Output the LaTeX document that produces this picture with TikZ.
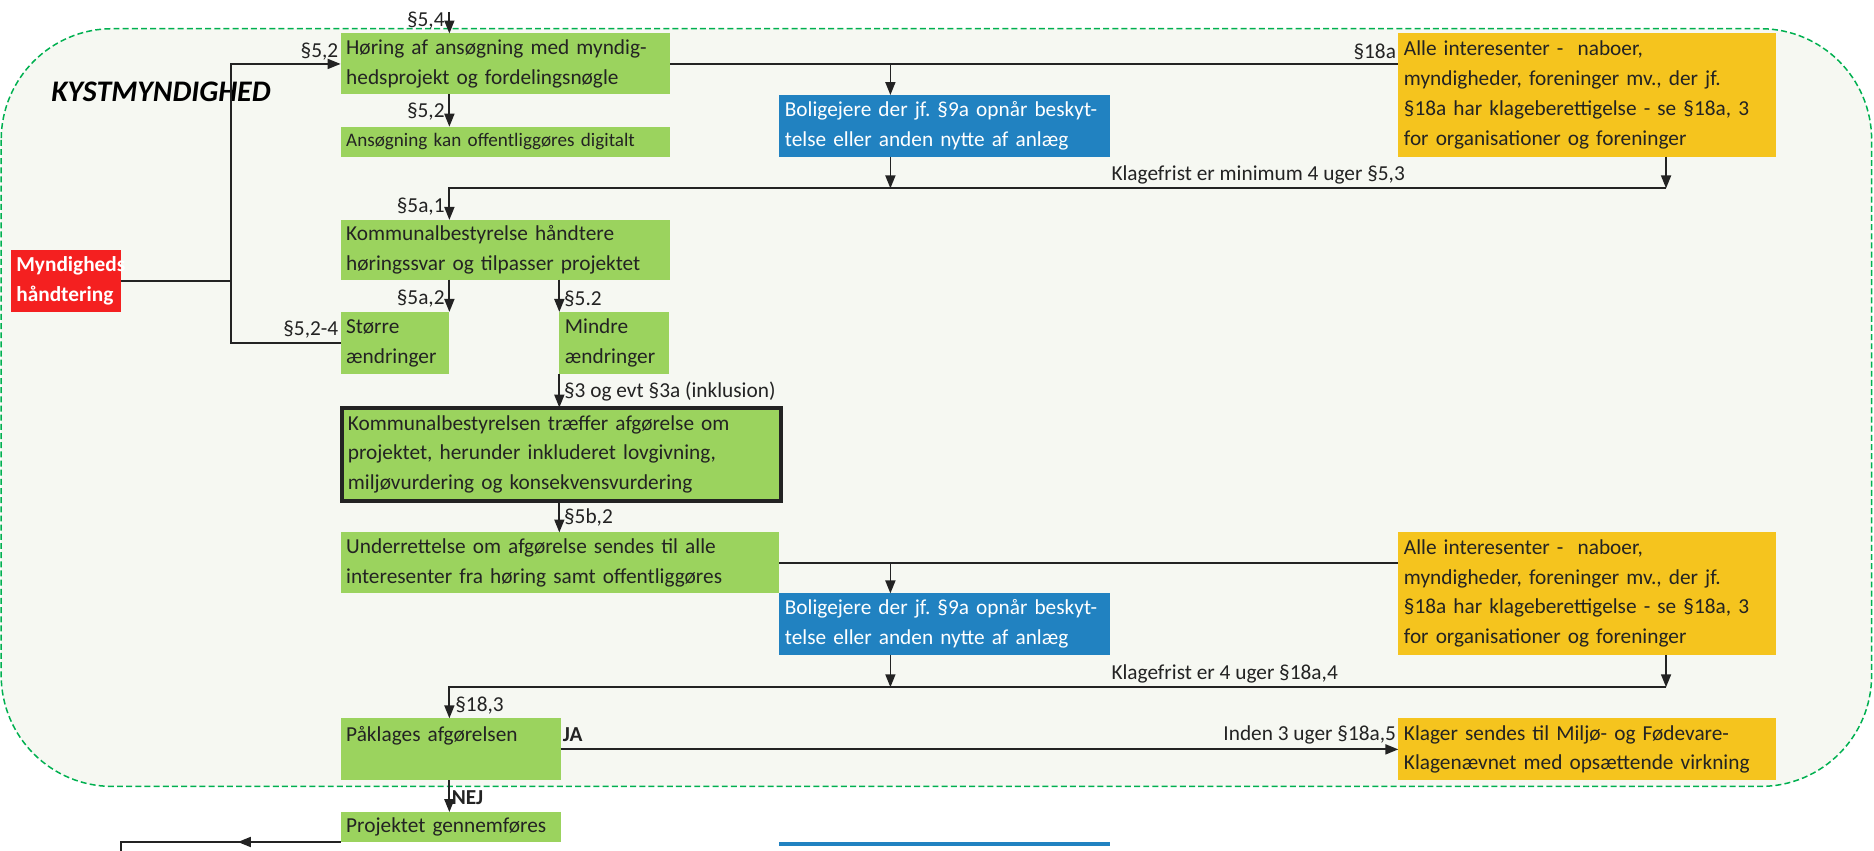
\documentclass[tikz,border=0pt]{standalone}
\usepackage{fontspec}
\setmainfont{Carlito}
\usetikzlibrary{arrows.meta}
\frenchspacing
\definecolor{kgreen}{RGB}{155,211,94}
\definecolor{kblue}{RGB}{33,130,193}
\definecolor{kyellow}{RGB}{245,196,30}
\definecolor{kred}{RGB}{244,32,32}
\definecolor{kdash}{RGB}{0,176,80}
\definecolor{kback}{RGB}{246,248,242}
\definecolor{ktext}{RGB}{35,35,35}

\begin{document}
\begin{tikzpicture}[x=0.6pt, y=-0.6pt,
  every node/.style={font=\fontsize{10.7}{15}\selectfont, text=ktext, inner sep=0pt, outer sep=0pt},
  box/.style={anchor=north west, inner xsep=2.8pt, align=left},
  gbox/.style={box, fill=kgreen},
  bbox/.style={box, fill=kblue, text=white},
  ybox/.style={box, fill=kyellow},
  lbl/.style={anchor=east},
  rlbl/.style={anchor=west},
  blbl/.style={anchor=west, font=\bfseries\fontsize{10.7}{15}\selectfont},
  ln/.style={draw=ktext, line width=0.9pt},
  arr/.style={ln, -{Triangle[length=6.5pt, width=5pt]}}]
\useasboundingbox (0,0) rectangle (1568,712);
\draw[kdash, fill=kback, line width=0.75pt, dash pattern=on 3pt off 1.6pt, rounded corners=55.8pt] (1,24) rectangle (1566,658);
\node[anchor=west, font=\bfseries\itshape\fontsize{15}{18}\selectfont, text=black] (Kyst) at (43,76.5) {KYSTMYNDIGHED};

\node[box, fill=kred, text=white, font=\bfseries\fontsize{10.7}{15}\selectfont, text width=49.6pt, minimum height=31.2pt] (Myn) at (9,209) {Myndigheds\\håndtering};
\node[gbox, text width=160pt, minimum height=30.6pt] (Hoer) at (285,28) {Høring af ansøgning med myndig-\\hedsprojekt og fordelingsnøgle};
\node[gbox, text width=160pt, minimum height=15pt, font=\fontsize{9.6}{12}\selectfont] (Ansoeg) at (285,106) {Ansøgning kan offentliggøres digitalt};
\node[bbox, text width=160.6pt, minimum height=30.9pt] (Bolig1) at (652,79.5) {Boligejere der jf. §9a opnår beskyt-\\telse eller anden nytte af anlæg};
\node[ybox, text width=184pt, minimum height=61.8pt] (Alle1) at (1170,28) {Alle interesenter -~ naboer,\\myndigheder, foreninger mv., der jf.\\§18a har klageberettigelse - se §18a, 3\\for organisationer og foreninger};
\node[gbox, text width=160pt, minimum height=30pt] (Komm) at (285,184) {Kommunalbestyrelse håndtere\\høringssvar og tilpasser projektet};
\node[gbox, text width=49pt, minimum height=31.2pt] (Stor) at (285,261) {Større\\ændringer};
\node[gbox, text width=49.6pt, minimum height=31.2pt] (Mindre) at (468,261) {Mindre\\ændringer};
\node[gbox, draw=ktext, line width=2pt, text width=214.4pt, minimum height=47pt] (Afg) at (286.4,341) {Kommunalbestyrelsen træffer afgørelse om\\projektet, herunder inkluderet lovgivning,\\miljøvurdering og konsekvensvurdering};
\node[gbox, text width=214.6pt, minimum height=30.6pt] (Under) at (285,445.5) {Underrettelse om afgørelse sendes til alle\\interesenter fra høring samt offentliggøres};
\node[bbox, text width=160.6pt, minimum height=30.9pt] (Bolig2) at (652,496.5) {Boligejere der jf. §9a opnår beskyt-\\telse eller anden nytte af anlæg};
\node[ybox, text width=184pt, minimum height=61.8pt] (Alle2) at (1170,445) {Alle interesenter -~ naboer,\\myndigheder, foreninger mv., der jf.\\§18a har klageberettigelse - se §18a, 3\\for organisationer og foreninger};
\node[gbox, text width=104.8pt, minimum height=31.2pt] (Paak) at (285,601) {Påklages afgørelsen\\~};
\node[ybox, text width=184pt, minimum height=31.2pt] (Klager) at (1170,601) {Klager sendes til Miljø- og Fødevare-\\Klagenævnet med opsættende virkning};
\node[gbox, text width=104.8pt, minimum height=15pt] (Proj) at (285,679.5) {Projektet gennemføres};
\node[box, fill=kblue, minimum width=166.2pt, minimum height=1.8pt] (Bolig3) at (652,704.5) {};

\node[lbl] (L1) at (372,17) {§5,4};
\node[lbl] (L2) at (283,43) {§5,2};
\node[lbl] (L3) at (372,93) {§5,2};
\node[lbl] (L4) at (1168,43) {§18a};
\node[rlbl] (L5) at (930,146) {Klagefrist er minimum 4 uger §5,3};
\node[lbl] (L6) at (372,173) {§5a,1};
\node[lbl] (L7) at (372,250) {§5a,2};
\node[rlbl] (L8) at (472,250) {§5.2};
\node[lbl] (L9) at (283,276) {§5,2-4};
\node[rlbl] (L10) at (472,328) {§3 og evt §3a (inklusion)};
\node[rlbl] (L11) at (472,433) {§5b,2};
\node[rlbl] (L12) at (930,564) {Klagefrist er 4 uger §18a,4};
\node[rlbl] (L13) at (381,590) {§18,3};
\node[blbl] (L14) at (471,615) {JA};
\node[lbl] (L15) at (1168,615) {Inden 3 uger §18a,5};
\node[blbl] (L16) at (378,667) {NEJ};

\coordinate (Top) at (376,10);
\coordinate (CA) at (376,0);
\coordinate (CB) at (468,0);
\coordinate (CC) at (745,0);
\coordinate (Trunk) at (193,235);
\coordinate (KF1) at (1394,157.6);
\coordinate (KF2) at (1394,575);

\draw[arr] (Top) -- (Hoer.north -| Top);
\draw[ln] (Myn.east) -- (Myn.east -| Trunk);
\draw[arr] (Stor.west) -| (Trunk) |- (Hoer.west);
\draw[arr] (Hoer.south -| CA) -- (Ansoeg.north -| CA);
\draw[ln] (Hoer.east) -- (Hoer.east -| Alle1.west);
\draw[arr] (Hoer.east -| CC) -- (Bolig1.north -| CC);
\draw[arr] (Bolig1.south -| CC) -- (KF1 -| CC);
\draw[arr] (Alle1.south -| KF1) -- (KF1);
\draw[arr] (KF1) -| (Komm.north -| CA);
\draw[arr] (Komm.south -| CA) -- (Stor.north -| CA);
\draw[arr] (Komm.south -| CB) -- (Mindre.north -| CB);
\draw[arr] (Mindre.south -| CB) -- (Afg.north -| CB);
\draw[arr] (Afg.south -| CB) -- (Under.north -| CB);
\draw[ln] (Under.east) -- (Under.east -| Alle2.west);
\draw[arr] (Under.east -| CC) -- (Bolig2.north -| CC);
\draw[arr] (Bolig2.south -| CC) -- (KF2 -| CC);
\draw[arr] (Alle2.south -| KF2) -- (KF2);
\draw[arr] (KF2) -| (Paak.north -| CA);
\draw[arr] (Paak.east) -- (Klager.west);
\draw[arr] (Paak.south -| CA) -- (Proj.north -| CA);
\draw[ln] (Proj.south west) -- ++(-184,0) -- ++(0,10);
\draw[arr] (Proj.south west) -- ++(-86,0);
\end{tikzpicture}
\end{document}
